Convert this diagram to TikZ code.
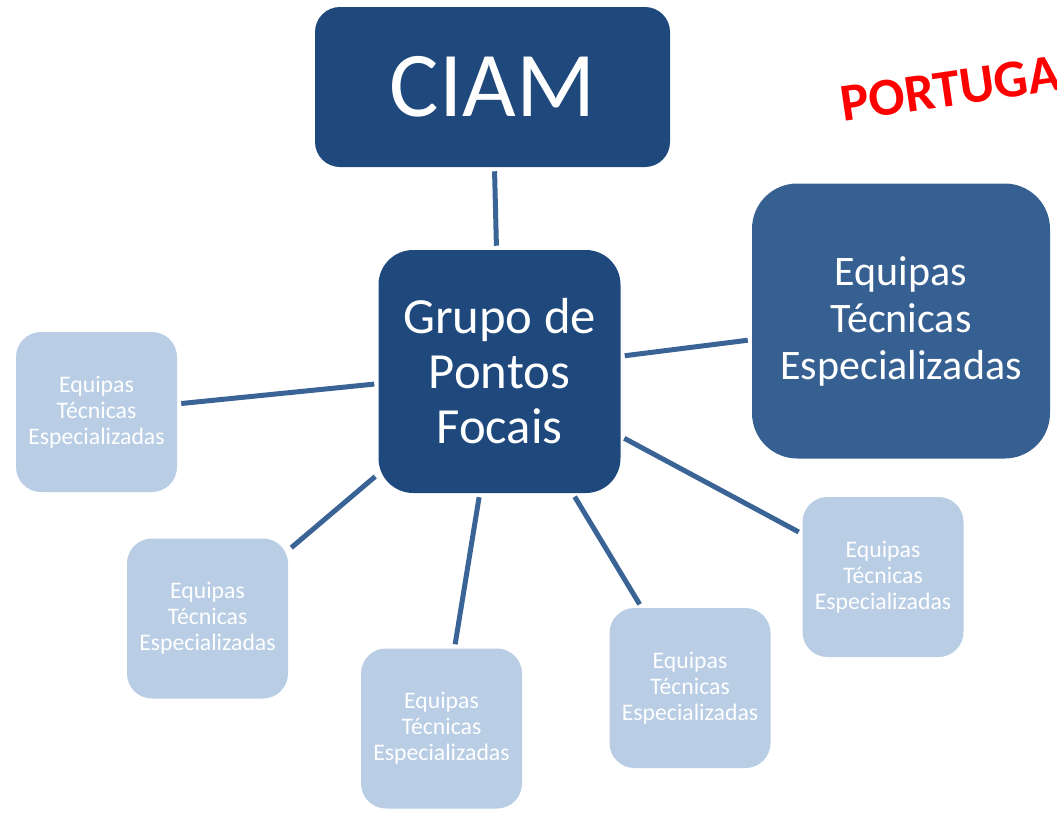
\documentclass[tikz,border=0pt]{standalone}
\usepackage{fontspec}
\setmainfont{Carlito}
\definecolor{darkblue}{HTML}{1F497D}
\definecolor{midblue}{HTML}{376092}
\definecolor{lightblue}{HTML}{B9CDE5}
\definecolor{linkblue}{HTML}{3A6496}
\tikzset{
  box/.style={rectangle, draw=none, text=white, align=center, inner sep=0pt},
  ciambox/.style={box, fill=darkblue, minimum width=266.25pt, minimum height=120pt, rounded corners=18.75pt, font=\fontsize{69.5}{84}\selectfont},
  grupobox/.style={box, fill=darkblue, minimum width=181.5pt, minimum height=182.25pt, rounded corners=26pt, font=\fontsize{38}{41.25}\selectfont},
  bigbox/.style={box, fill=midblue, minimum width=223.5pt, minimum height=206.25pt, rounded corners=34pt, font=\fontsize{31.5}{35.25}\selectfont},
  smallbox/.style={box, fill=lightblue, minimum width=120.75pt, minimum height=120pt, rounded corners=18.75pt, font=\fontsize{17.8}{19.5}\selectfont},
  link/.style={draw=linkblue, line width=3.75pt, shorten <=3pt, shorten >=3pt}
}
\begin{document}
\begin{tikzpicture}[x=0.75pt,y=-0.75pt]
\useasboundingbox (0,0) rectangle (1057,814);
\clip (0,0) rectangle (1057,814);
\node[ciambox] (ciam) at (492.5,87) {CIAM};
\node[grupobox] (grupo) at (499.5,371.5) {Grupo de\\Pontos\\Focais};
\node[bigbox] (big) at (901,321) {Equipas\\Técnicas\\Especializadas};
\node[smallbox] (s1) at (96.5,412) {Equipas\\Técnicas\\Especializadas};
\node[smallbox] (s2) at (207.5,618.5) {Equipas\\Técnicas\\Especializadas};
\node[smallbox] (s3) at (441.5,728.5) {Equipas\\Técnicas\\Especializadas};
\node[smallbox] (s4) at (690,688) {Equipas\\Técnicas\\Especializadas};
\node[smallbox] (s5) at (883,577) {Equipas\\Técnicas\\Especializadas};
\node[anchor=base west, rotate=8.2, text=red, inner sep=0pt, font=\bfseries\fontsize{40}{48}\selectfont] (pt) at (843,122) {PORTUGAL};
\draw[link] (ciam) -- (grupo);
\draw[link] (grupo) -- (big);
\draw[link] (grupo) -- (s1);
\draw[link] (grupo) -- (s2);
\draw[link] (grupo) -- (s3);
\draw[link] (grupo) -- (s4);
\draw[link] (grupo) -- (s5);
\end{tikzpicture}
\end{document}
